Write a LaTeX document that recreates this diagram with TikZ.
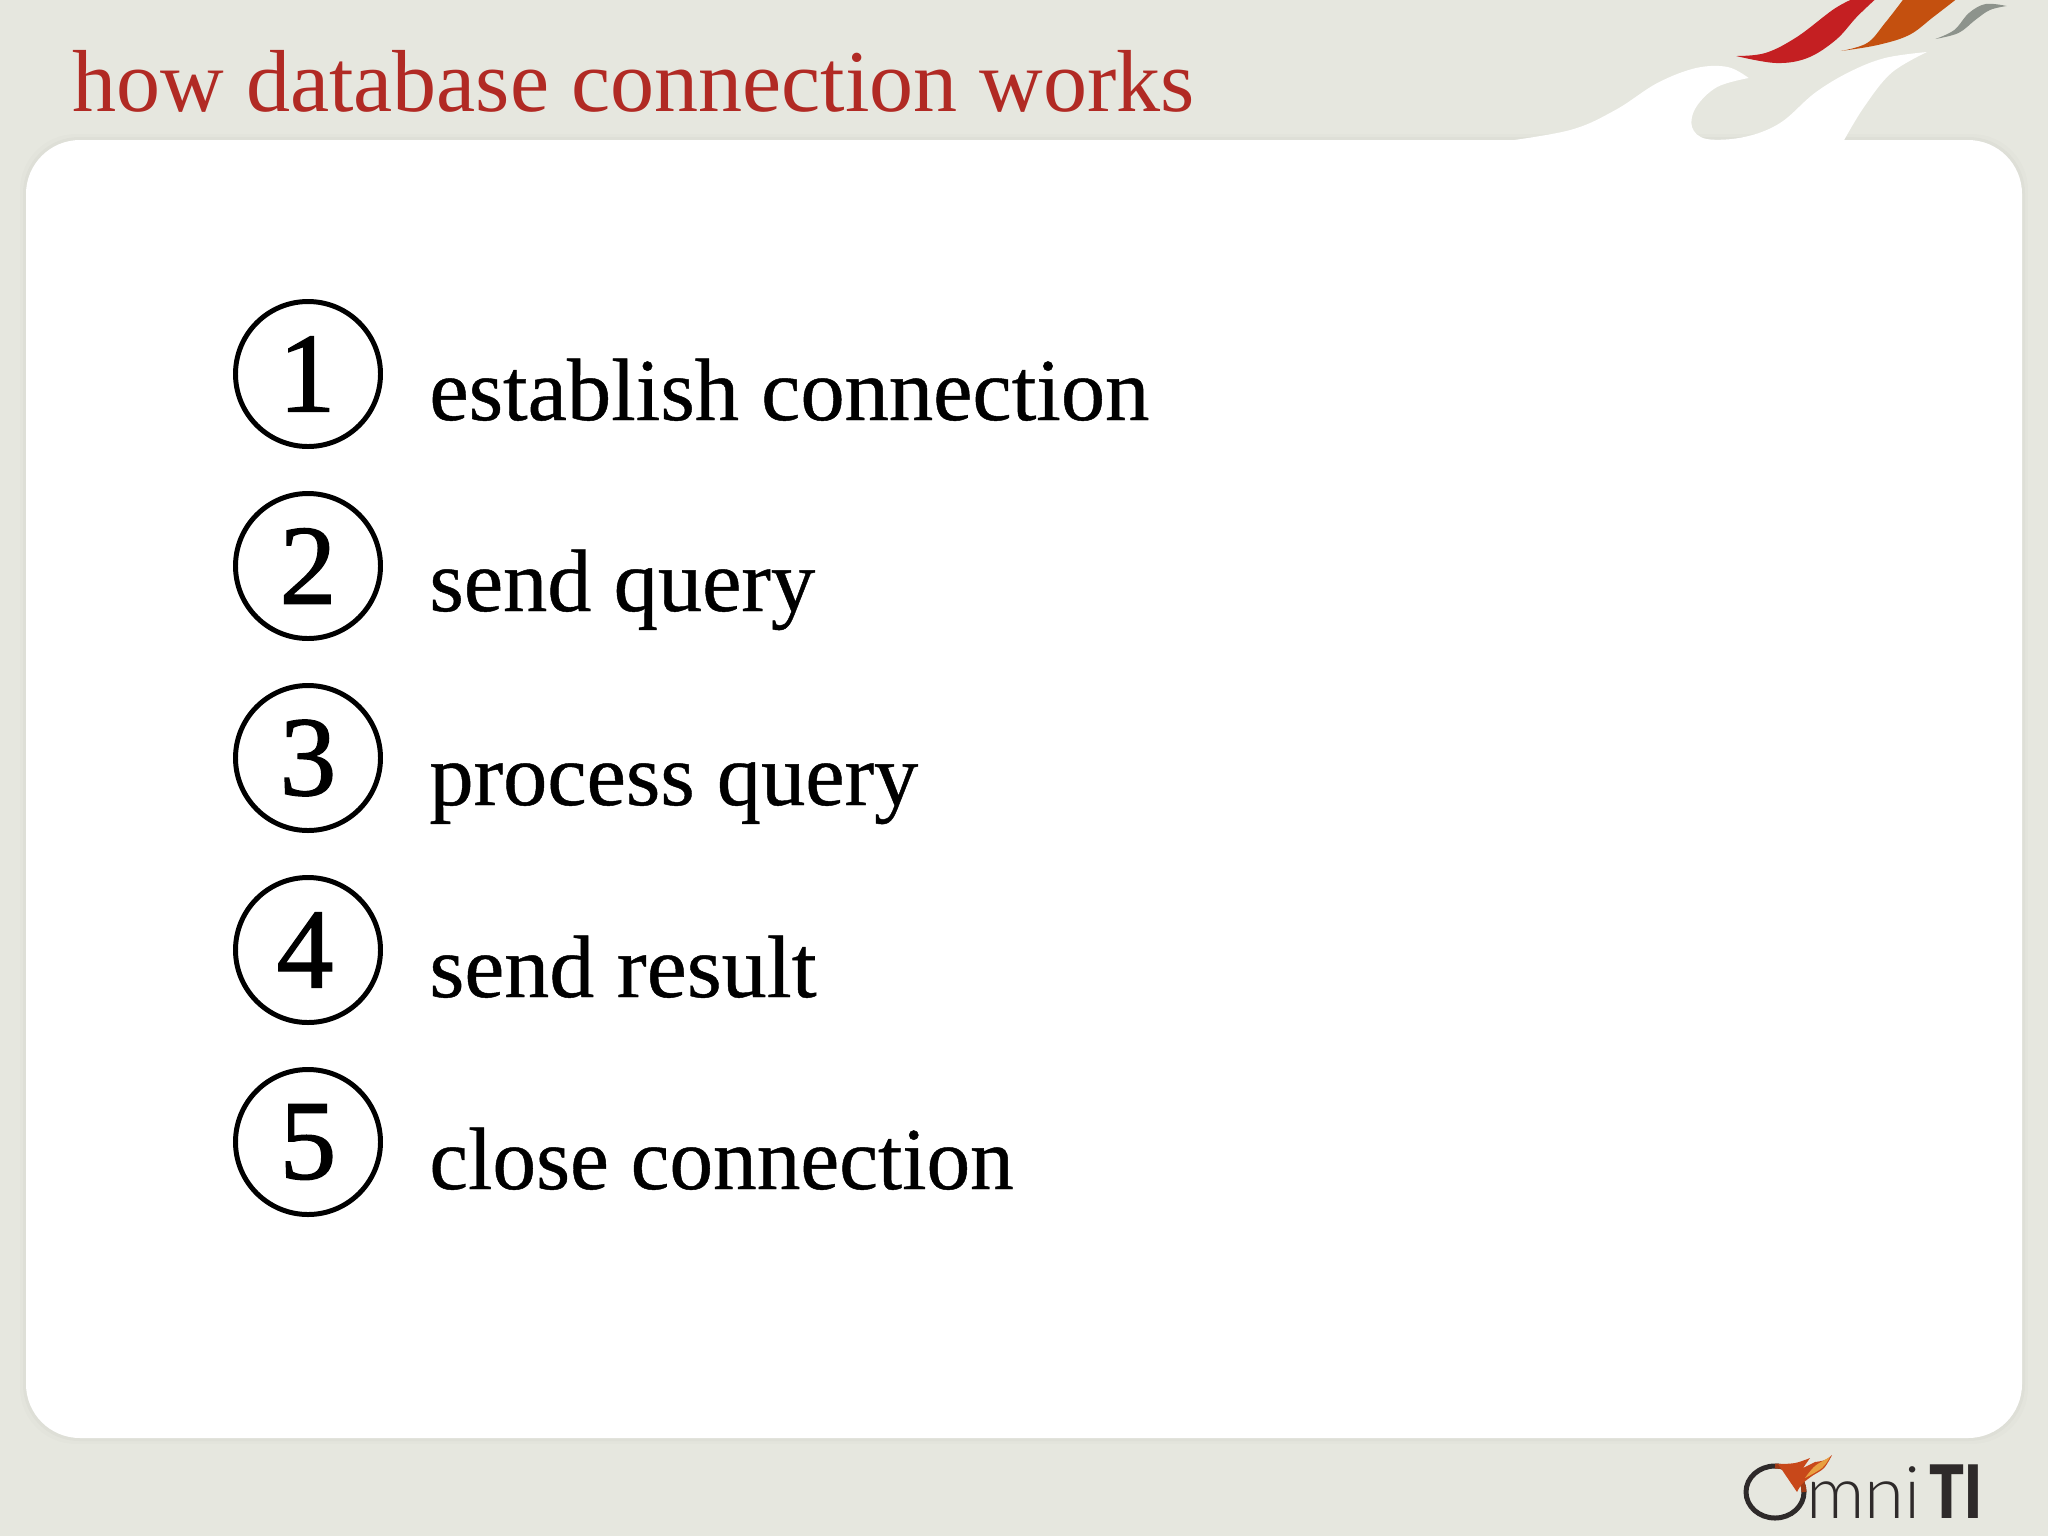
\documentclass[tikz,border=0pt]{standalone}
\usepackage{fontspec}
\setmainfont{Liberation Serif}
\newfontfamily\heavyserif[FakeBold=0.5]{Liberation Serif}
\newfontfamily\digitserif[FakeBold=1.2]{Liberation Serif}
\newfontfamily\logofont{Lato Light}
\newfontfamily\logobold{Lato Black}
\definecolor{pagebg}{HTML}{E6E7DF}
\definecolor{titlered}{HTML}{B12A24}
\definecolor{flamered}{HTML}{C41F22}
\definecolor{flameorange}{HTML}{C4500F}
\definecolor{flamegrey}{HTML}{8D938C}
\definecolor{logodark}{HTML}{2E2A2A}
\definecolor{logoflame}{HTML}{C8481A}
\definecolor{logolight}{HTML}{E8A040}
\tikzset{
  numcircle/.style={circle,draw=black,line width=2.5pt,minimum size=72.5bp,inner sep=0pt,font=\digitserif\fontsize{57}{60}\selectfont},
  itemtext/.style={anchor=base west,inner sep=0pt,font=\heavyserif\fontsize{44.4}{50}\selectfont,text=black},
}
\begin{document}
\begin{tikzpicture}[x=0.5bp,y=-0.5bp]
\useasboundingbox (0,0) rectangle (2048,1536);
\fill[pagebg] (0,0) rectangle (2048,1536);
% soft card shadow
\foreach \g/\o in {6/.012,3/.018}{
  \fill[black,opacity=\o,rounded corners=28bp] (26-\g,140-\g) rectangle (2022+\g,1438+\g);
}
\fill[white,rounded corners=27bp] (26,140) rectangle (2022,1438);
\begin{scope}[x=0.5245bp,xshift=-36.75bp]
% white wave
\fill[white] plot[smooth,tension=.6] coordinates {(1500,142) (1567,130) (1610,110) (1650,83) (1687,68) (1717,67) (1737,78)}
  -- plot[smooth,tension=.6] coordinates {(1737,78) (1707,87) (1687,107) (1683,127) (1697,139) (1733,137) (1767,123) (1800,93) (1833,72) (1867,58) (1907,52)}
  -- plot[smooth,tension=.6] coordinates {(1907,52) (1873,73) (1847,107) (1828,140)}
  -- (1828,150) -- (1500,150) -- cycle;
% flames
\fill[flamered] plot[smooth,tension=.6] coordinates {(1725,56) (1753,53) (1783,37) (1817,10) (1834,0)}
  -- (1857,0) -- plot[smooth,tension=.6] coordinates {(1857,0) (1840,17) (1820,40) (1793,58) (1763,63) (1725,56)} -- cycle;
\fill[flameorange] plot[smooth,tension=.6] coordinates {(1825,51) (1850,43) (1867,23) (1884,0)}
  -- (1934,0) -- plot[smooth,tension=.6] coordinates {(1934,0) (1913,17) (1890,35) (1860,45) (1825,51)} -- cycle;
\fill[flamegrey] plot[smooth,tension=.6] coordinates {(1915,39) (1933,30) (1947,13) (1963,4) (1983,6)}
  -- plot[smooth,tension=.6] coordinates {(1983,6) (1967,10) (1953,20) (1937,33) (1915,39)} -- cycle;
\end{scope}
% title
\node[anchor=base west,inner sep=0pt,font=\fontsize{44.2}{50}\selectfont,text=titlered] (title) at (72,111) {how database connection works};
% steps
\node[numcircle] (n1) at (308,374) {\hspace{-1bp}1};
\node[numcircle] (n2) at (308,566) {2};
\node[numcircle] (n3) at (308,758) {3};
\node[numcircle] (n4) at (308,950) {\hspace{-3bp}4};
\node[numcircle] (n5) at (308,1142) {5};
\node[itemtext] (t1) at (429,420) {establish connection};
\node[itemtext] (t2) at (429,611) {send query};
\node[itemtext] (t3) at (429,805) {process query};
\node[itemtext] (t4) at (429,997) {\scalebox{1.017}[1]{send result}};
\node[itemtext] (t5) at (429,1189) {\scalebox{.987}[1]{close connection}};
% logo
\draw[logodark,line width=2.5bp] (1775,1492) ellipse [x radius=29,y radius=26];
\draw[logoflame!80!black,line width=2.5bp] (1775,1466) arc[start angle=-90,end angle=0,x radius=29,y radius=26];
\fill[logoflame] plot[smooth,tension=.6] coordinates {(1778,1464) (1795,1463) (1810,1458)}
  -- (1803,1468) -- (1815,1462) -- plot[smooth,tension=.6] coordinates {(1815,1462) (1825,1460) (1832,1455)}
  -- plot[smooth,tension=.6] coordinates {(1832,1455) (1824,1468) (1812,1476) (1802,1484) (1797,1492)} -- cycle;
\fill[logolight] plot[smooth,tension=.6] coordinates {(1805,1478) (1815,1466) (1830,1457)}
  -- plot[smooth,tension=.6] coordinates {(1830,1457) (1822,1468) (1805,1478)} -- cycle;
\node[anchor=base west,inner sep=0pt,text=logodark,font=\logofont\fontsize{36.5}{38}\selectfont] (logom) at (1806,1518) {mni};
\node[anchor=base west,inner sep=0pt,text=logodark,font=\logobold\fontsize{37}{38}\selectfont] (logot) at (1929,1518) {\scalebox{.78}[1]{TI}};
\end{tikzpicture}
\end{document}
